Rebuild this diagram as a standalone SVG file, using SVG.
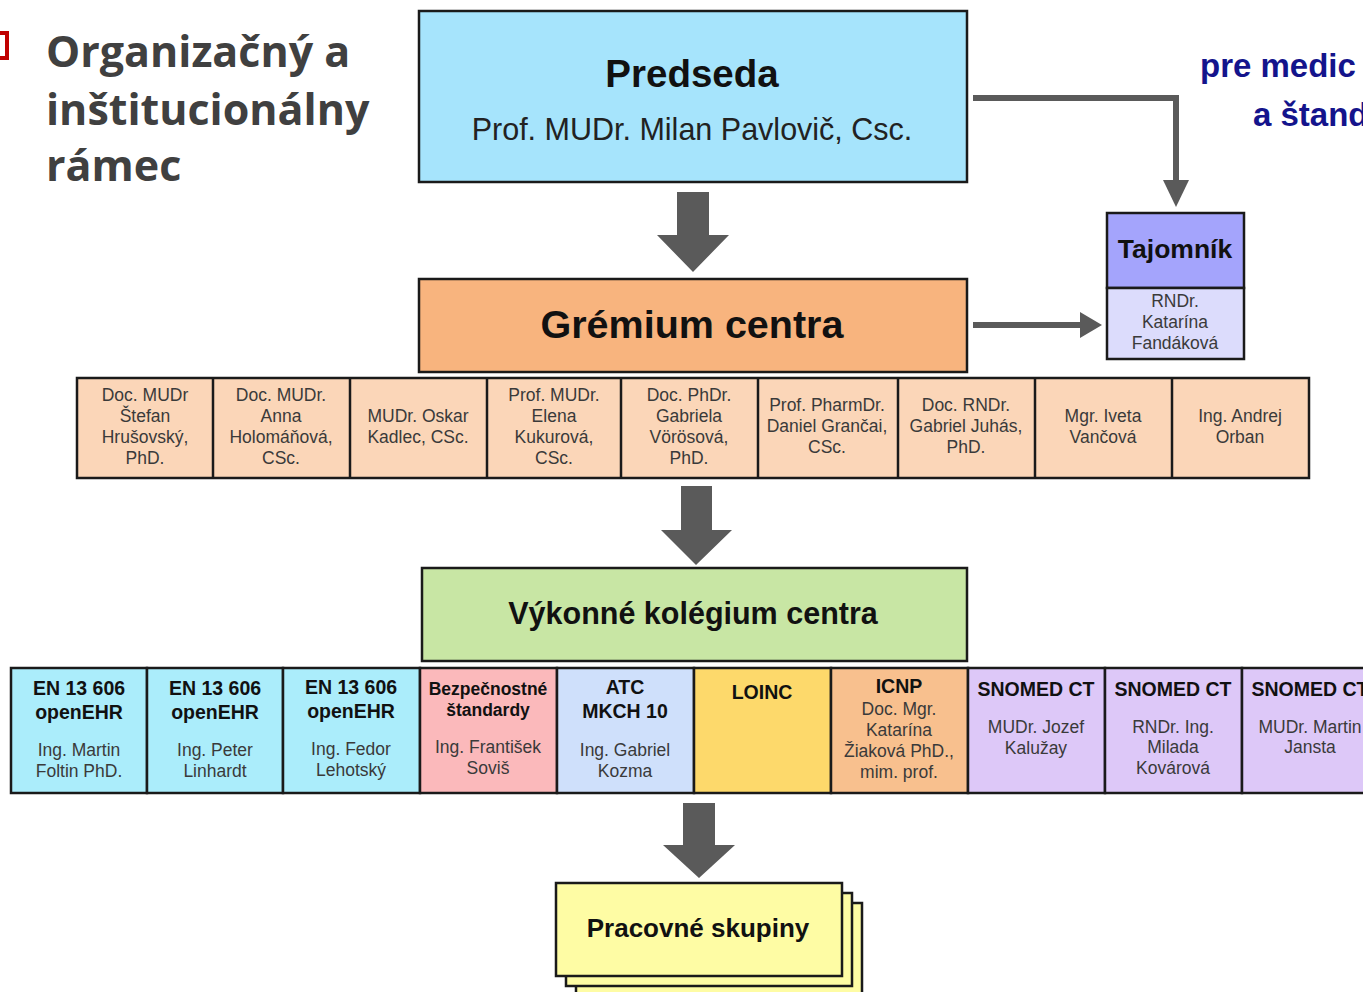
<svg xmlns="http://www.w3.org/2000/svg" width="1363" height="992" viewBox="0 0 1363 992">
<style>
.box{stroke:#1a1a1a;stroke-width:2.5}
.t{font-family:"Liberation Sans",Arial,sans-serif;text-anchor:middle}
.h{font-weight:bold;fill:#111}
.n{font-size:17.5px;fill:#3a3a3a}
.m{font-size:17.5px;fill:#3a3a3a}
.bh{font-size:19.5px;font-weight:bold;fill:#111}
.arr{fill:#5a5a5a}
.con{fill:none;stroke:#5a5a5a;stroke-width:6}
</style>
<rect width="1363" height="992" fill="#fff"/>

<g id="title">
<rect x="-8" y="33" width="15" height="25" fill="none" stroke="#c00000" stroke-width="4"/>
<text x="46" y="67" font-family="'Open Sans',sans-serif" font-weight="bold" font-size="43" fill="#404040">Organizačný a</text>
<text x="46" y="125" font-family="'Open Sans',sans-serif" font-weight="bold" font-size="43" fill="#404040">inštitucionálny</text>
<text x="46" y="181" font-family="'Open Sans',sans-serif" font-weight="bold" font-size="43" fill="#404040">rámec</text>
</g>

<g id="subtitle">
<text x="1200" y="77" font-family="'Liberation Sans',Arial,sans-serif" font-weight="bold" font-size="33" fill="#14148c">pre medic</text>
<text x="1253" y="126" font-family="'Liberation Sans',Arial,sans-serif" font-weight="bold" font-size="33" fill="#14148c">a štand</text>
</g>

<g id="connectors">
<polygon class="arr" points="677,192 709,192 709,235 729,235 693,272 657,235 677,235"/>
<polygon class="arr" points="681,486 712,486 712,530 732,530 696,565 661,530 681,530"/>
<polygon class="arr" points="683,803 715,803 715,845 735,845 699,878 663,845 683,845"/>
<polyline class="con" points="973,98 1176,98 1176,182"/>
<polygon class="arr" points="1163,180 1189,180 1176,207"/>
<line class="con" x1="973" y1="325" x2="1082" y2="325"/>
<polygon class="arr" points="1080,312 1102,325 1080,338"/>
</g>

<g id="predseda">
<rect class="box" x="419" y="11" width="548" height="171" fill="#a6e4fc"/>
<text class="t h" x="692" y="87" font-size="38.5">Predseda</text>
<text class="t" x="692" y="140" font-size="30.5" fill="#222">Prof. MUDr. Milan Pavlovič, Csc.</text>
</g>

<g id="gremium">
<rect class="box" x="419" y="279" width="548" height="93" fill="#f8b47e"/>
<text class="t h" x="692" y="338" font-size="39.5">Grémium centra</text>
</g>

<g id="tajomnik">
<rect class="box" x="1107" y="213" width="137" height="75" fill="#a4a4fc"/>
<rect class="box" x="1107" y="288" width="137" height="71" fill="#dcdcfc"/>
<text class="t h" x="1175" y="258" font-size="26.5">Tajomník</text>
<text class="t n" x="1175" y="307">RNDr.</text>
<text class="t n" x="1175" y="328">Katarína</text>
<text class="t n" x="1175" y="349">Fandáková</text>
</g>

<g id="members">
<rect class="box" x="77" y="378" width="1232" height="100" fill="#fbd6b8"/>
<line class="box" x1="213" y1="378" x2="213" y2="478"/>
<line class="box" x1="350" y1="378" x2="350" y2="478"/>
<line class="box" x1="487" y1="378" x2="487" y2="478"/>
<line class="box" x1="621" y1="378" x2="621" y2="478"/>
<line class="box" x1="758" y1="378" x2="758" y2="478"/>
<line class="box" x1="898" y1="378" x2="898" y2="478"/>
<line class="box" x1="1035" y1="378" x2="1035" y2="478"/>
<line class="box" x1="1172" y1="378" x2="1172" y2="478"/>
<g class="t n">
<text x="145" y="401">Doc. MUDr</text><text x="145" y="422">Štefan</text><text x="145" y="443">Hrušovský,</text><text x="145" y="464">PhD.</text>
<text x="281" y="401">Doc. MUDr.</text><text x="281" y="422">Anna</text><text x="281" y="443">Holomáňová,</text><text x="281" y="464">CSc.</text>
<text x="418" y="422">MUDr. Oskar</text><text x="418" y="443">Kadlec, CSc.</text>
<text x="554" y="401">Prof. MUDr.</text><text x="554" y="422">Elena</text><text x="554" y="443">Kukurová,</text><text x="554" y="464">CSc.</text>
<text x="689" y="401">Doc. PhDr.</text><text x="689" y="422">Gabriela</text><text x="689" y="443">Vörösová,</text><text x="689" y="464">PhD.</text>
<text x="827" y="411">Prof. PharmDr.</text><text x="827" y="432">Daniel Grančai,</text><text x="827" y="453">CSc.</text>
<text x="966" y="411">Doc. RNDr.</text><text x="966" y="432">Gabriel Juhás,</text><text x="966" y="453">PhD.</text>
<text x="1103" y="422">Mgr. Iveta</text><text x="1103" y="443">Vančová</text>
<text x="1240" y="422">Ing. Andrej</text><text x="1240" y="443">Orban</text>
</g>
</g>

<g id="vykonne">
<rect class="box" x="422" y="568" width="545" height="93" fill="#c8e6a4"/>
<text class="t h" x="693" y="624" font-size="30.5">Výkonné kolégium centra</text>
</g>

<g id="groups">
<rect class="box" x="11" y="668" width="136" height="125" fill="#abedfb"/>
<rect class="box" x="147" y="668" width="136" height="125" fill="#abedfb"/>
<rect class="box" x="283" y="668" width="137" height="125" fill="#abedfb"/>
<rect class="box" x="420" y="668" width="137" height="125" fill="#fbb9bb"/>
<rect class="box" x="557" y="668" width="137" height="125" fill="#cfe0fb"/>
<rect class="box" x="694" y="668" width="137" height="125" fill="#fdd96b"/>
<rect class="box" x="831" y="668" width="137" height="125" fill="#f8c08e"/>
<rect class="box" x="968" y="668" width="137" height="125" fill="#ddc8f8"/>
<rect class="box" x="1105" y="668" width="137" height="125" fill="#ddc8f8"/>
<rect class="box" x="1242" y="668" width="137" height="125" fill="#ddc8f8"/>
<g class="t">
<text class="bh" x="79" y="695">EN 13 606</text><text class="bh" x="79" y="719">openEHR</text>
<text class="m" x="79" y="756">Ing. Martin</text><text class="m" x="79" y="777">Foltin PhD.</text>
<text class="bh" x="215" y="695">EN 13 606</text><text class="bh" x="215" y="719">openEHR</text>
<text class="m" x="215" y="756">Ing. Peter</text><text class="m" x="215" y="777">Linhardt</text>
<text class="bh" x="351" y="694">EN 13 606</text><text class="bh" x="351" y="718">openEHR</text>
<text class="m" x="351" y="755">Ing. Fedor</text><text class="m" x="351" y="776">Lehotský</text>
<text class="h" x="488" y="695" font-size="17.5">Bezpečnostné</text><text class="h" x="488" y="716" font-size="17.5">štandardy</text>
<text class="m" x="488" y="753">Ing. František</text><text class="m" x="488" y="774">Soviš</text>
<text class="bh" x="625" y="694">ATC</text><text class="bh" x="625" y="718">MKCH 10</text>
<text class="m" x="625" y="756">Ing. Gabriel</text><text class="m" x="625" y="777">Kozma</text>
<text class="bh" x="762" y="699">LOINC</text>
<text class="bh" x="899" y="693">ICNP</text>
<text class="m" x="899" y="715">Doc. Mgr.</text><text class="m" x="899" y="736">Katarína</text><text class="m" x="899" y="757">Žiaková PhD.,</text><text class="m" x="899" y="778">mim. prof.</text>
<text class="bh" x="1036" y="696">SNOMED CT</text>
<text class="m" x="1036" y="733">MUDr. Jozef</text><text class="m" x="1036" y="754">Kalužay</text>
<text class="bh" x="1173" y="696">SNOMED CT</text>
<text class="m" x="1173" y="733">RNDr. Ing.</text><text class="m" x="1173" y="753">Milada</text><text class="m" x="1173" y="774">Kovárová</text>
<text class="bh" x="1310" y="696">SNOMED CT</text>
<text class="m" x="1310" y="733">MUDr. Martin</text><text class="m" x="1310" y="753">Jansta</text>
</g>
</g>

<g id="pracovne">
<rect class="box" x="576" y="903" width="286" height="93" fill="#fefca4"/>
<rect class="box" x="566" y="893" width="286" height="93" fill="#fefca4"/>
<rect class="box" x="556" y="883" width="286" height="93" fill="#fefca4"/>
<text class="t h" x="698" y="937" font-size="26">Pracovné skupiny</text>
</g>
</svg>
